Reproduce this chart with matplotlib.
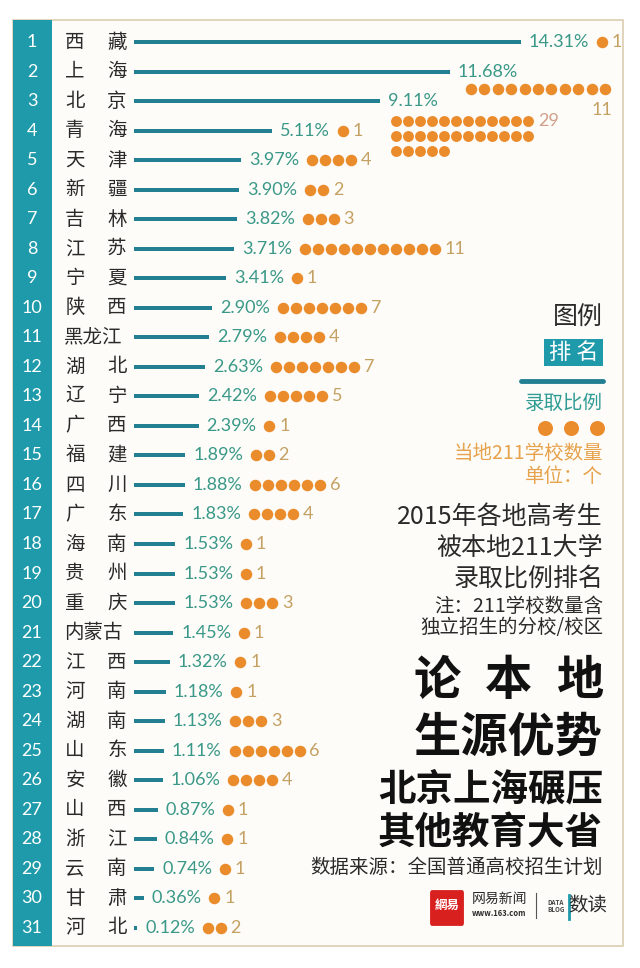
import matplotlib.pyplot as plt
from matplotlib.patches import Rectangle, FancyBboxPatch
from matplotlib.transforms import blended_transform_factory

provinces = ['西藏', '上海', '北京', '青海', '天津', '新疆', '吉林', '江苏', '宁夏', '陕西',
             '黑龙江', '湖北', '辽宁', '广西', '福建', '四川', '广东', '海南', '贵州', '重庆',
             '内蒙古', '江西', '河南', '湖南', '山东', '安徽', '山西', '浙江', '云南', '甘肃', '河北']
ratios = [14.31, 11.68, 9.11, 5.11, 3.97, 3.90, 3.82, 3.71, 3.41, 2.90,
          2.79, 2.63, 2.42, 2.39, 1.89, 1.88, 1.83, 1.53, 1.53, 1.53,
          1.45, 1.32, 1.18, 1.13, 1.11, 1.06, 0.87, 0.84, 0.74, 0.36, 0.12]
schools = [1, 11, 29, 1, 4, 2, 3, 11, 1, 7,
           4, 7, 5, 1, 2, 6, 4, 1, 1, 3,
           1, 1, 1, 3, 6, 4, 1, 1, 1, 1, 2]

title_lines = ['2015年各地高考生', '被本地211大学', '录取比例排名']
note_lines = ['注：211学校数量含', '独立招生的分校/校区']
big_lines = ['生源优势', '北京上海碾压', '其他教育大省']
source = '数据来源：全国普通高校招生计划'

BAR = '#237f92'
SIDE = '#1e9aaa'
PCT = '#3a9888'
DOT = '#ea8b2c'
NUM = '#c4a062'
INK = '#2a2a2a'
CJK = ['Noto Sans CJK SC', 'DejaVu Sans']
LAT = ['Lato', 'Noto Sans CJK SC', 'DejaVu Sans']

W, H = 640, 968
X0, PX_PCT = 134, 27.04     # bar origin (px) and px per percent
ROW0, STEP = 42, 29.53      # first row centre (px) and row spacing


def fx(px):
    return px / W


def fy(py):
    return 1 - py / H


def row(py):
    return 1 + (py - ROW0) / STEP


def xdata(px):
    return (px - X0) / PX_PCT


fig = plt.figure(figsize=(6.4, 9.68), dpi=100)
fig.patch.set_facecolor('white')
ax = fig.add_axes([0, 0, 1, 1])
ax.set_xlim(xdata(0), xdata(W))
ax.set_ylim(row(H), row(0))
ax.axis('off')
mix = blended_transform_factory(ax.transAxes, ax.transData)

# frame and rank strip
ax.add_patch(Rectangle((fx(13), fy(946)), fx(610), 926 / H, transform=ax.transAxes,
                       facecolor='#fdfcf8', edgecolor='#dccdb0', lw=1.2, zorder=0))
ax.add_patch(Rectangle((fx(13), fy(946)), fx(39), 926 / H, transform=ax.transAxes,
                       facecolor=SIDE, edgecolor='none', zorder=1))

ranks = list(range(1, len(provinces) + 1))
ax.barh(ranks, ratios, height=4 / STEP, color=BAR, zorder=2)

pct_texts = []
for r, name, v in zip(ranks, provinces, ratios):
    ax.text(fx(32), r, str(r), transform=mix, ha='center', va='center',
            fontsize=13, color='white', family=LAT)
    if len(name) == 2:
        ax.text(fx(75), r, name[0], transform=mix, ha='center', va='center',
                fontsize=14, color=INK, family=CJK)
        ax.text(fx(117), r, name[1], transform=mix, ha='center', va='center',
                fontsize=14, color=INK, family=CJK)
    else:
        ax.text(fx(93), r, name, transform=mix, ha='center', va='center',
                fontsize=14, color=INK, family=CJK)
    t = ax.text(v + 8 / PX_PCT, r, f'{v:.2f}%', ha='left', va='center',
                fontsize=13, color=PCT, family=LAT)
    pct_texts.append(t)

renderer = fig.canvas.get_renderer()
D = 11.5
S = (D * 0.72) ** 2

for r, n, t in zip(ranks, schools, pct_texts):
    end = t.get_window_extent(renderer=renderer).x1
    if r == 2:
        # dots go on their own line under the label
        xs = [605 - i * 13.4 for i in range(n)][::-1]
        ax.scatter([xdata(x) for x in xs], [row(89)] * n, s=S, color=DOT, lw=0, zorder=3)
        ax.text(fx(612), row(110), str(n), transform=mix, ha='right', va='center',
                fontsize=13, color=NUM, family=LAT)
    elif r == 3:
        per = 12
        for k in range(0, n, per):
            m = min(per, n - k)
            xs = [396 + i * 12 for i in range(m)]
            yy = row(121 + 15 * (k // per))
            ax.scatter([xdata(x) for x in xs], [yy] * m, s=S * 0.9, color=DOT, lw=0, zorder=3)
        ax.text(xdata(396 + 11 * 12 + 10), row(121), str(n), ha='left', va='center',
                fontsize=13, color='#d0a08a', family=LAT)
    else:
        xs = [end + 7 + D / 2 + i * 13 for i in range(n)]
        ax.scatter([xdata(x) for x in xs], [r] * n, s=S, color=DOT, lw=0, zorder=3)
        ax.text(xdata(xs[-1] + D / 2 + 4), r, str(n), ha='left', va='center',
                fontsize=13, color=NUM, family=LAT)

# legend
R = fx(603)
fig.text(R, fy(318), '图例', ha='right', va='center', fontsize=18, color=INK, family=CJK)
ax.add_patch(Rectangle((fx(544), fy(366)), fx(59), 27 / H, transform=ax.transAxes,
                       facecolor=SIDE, edgecolor='none', zorder=2))
fig.text(fx(573.5), fy(352), '排 名', ha='center', va='center', fontsize=16,
         color='white', family=CJK)
ax.plot([fx(521), fx(603)], [fy(381)] * 2, transform=ax.transAxes, color=BAR, lw=3.5,
        solid_capstyle='round', zorder=2)
fig.text(R, fy(403), '录取比例', ha='right', va='center', fontsize=14, color='#2f9c94', family=CJK)
ax.scatter([fx(545), fx(571), fx(597)], [fy(428)] * 3, transform=ax.transAxes,
           s=(15 * 0.72) ** 2, color=DOT, lw=0, zorder=3)
fig.text(R, fy(453), '当地211学校数量', ha='right', va='center', fontsize=14,
         color='#e6a24c', family=CJK)
fig.text(R, fy(477), '单位：个', ha='right', va='center', fontsize=14,
         color='#e6a24c', family=CJK)

# titles
for i, line in enumerate(title_lines):
    fig.text(R, fy(517 + 31 * i), line, ha='right', va='center', fontsize=18,
             color=INK, family=CJK)
for i, line in enumerate(note_lines):
    fig.text(R, fy(606 + 22 * i), line, ha='right', va='center', fontsize=14,
             color=INK, family=CJK)
for cx, ch in zip([437, 509, 581], '论本地'):
    fig.text(fx(cx), fy(681), ch, ha='center', va='center', fontsize=34,
             fontweight='heavy', color='#111111', family=CJK)
fig.text(R, fy(738), big_lines[0], ha='right', va='center', fontsize=34,
         fontweight='heavy', color='#111111', family=CJK)
fig.text(R, fy(789), big_lines[1], ha='right', va='center', fontsize=27,
         fontweight='heavy', color='#111111', family=CJK)
fig.text(R, fy(832), big_lines[2], ha='right', va='center', fontsize=27,
         fontweight='heavy', color='#111111', family=CJK)
fig.text(R, fy(867), source, ha='right', va='center', fontsize=14, color=INK, family=CJK)

# logo
ax.add_patch(FancyBboxPatch((fx(432), fy(923)), fx(30), 30 / H, transform=ax.transAxes,
                            boxstyle='round,pad=0.003', facecolor='#d8201e',
                            edgecolor='none', zorder=2))
fig.text(fx(447), fy(905), '網易', ha='center', va='center', fontsize=9,
         fontweight='bold', color='white', family=CJK)
fig.text(fx(472), fy(899), '网易新闻', ha='left', va='center', fontsize=10,
         color=INK, family=CJK)
fig.text(fx(472), fy(914), 'www.163.com', ha='left', va='center', fontsize=5.5,
         fontweight='bold', color=INK, family=CJK)
ax.plot([fx(536)] * 2, [fy(893), fy(918)], transform=ax.transAxes, color='#555555', lw=0.8)
fig.text(fx(556), fy(906), 'DATA\nBLOG', ha='center', va='center', fontsize=4.5,
         fontweight='bold', color='#444444', family=CJK, linespacing=0.9)
ax.plot([fx(569)] * 2, [fy(895), fy(919)], transform=ax.transAxes, color=SIDE, lw=2)
fig.text(fx(607), fy(906), '数读', ha='right', va='center', fontsize=14,
         color=INK, family=CJK)

fig.savefig('out.png', dpi=100)
